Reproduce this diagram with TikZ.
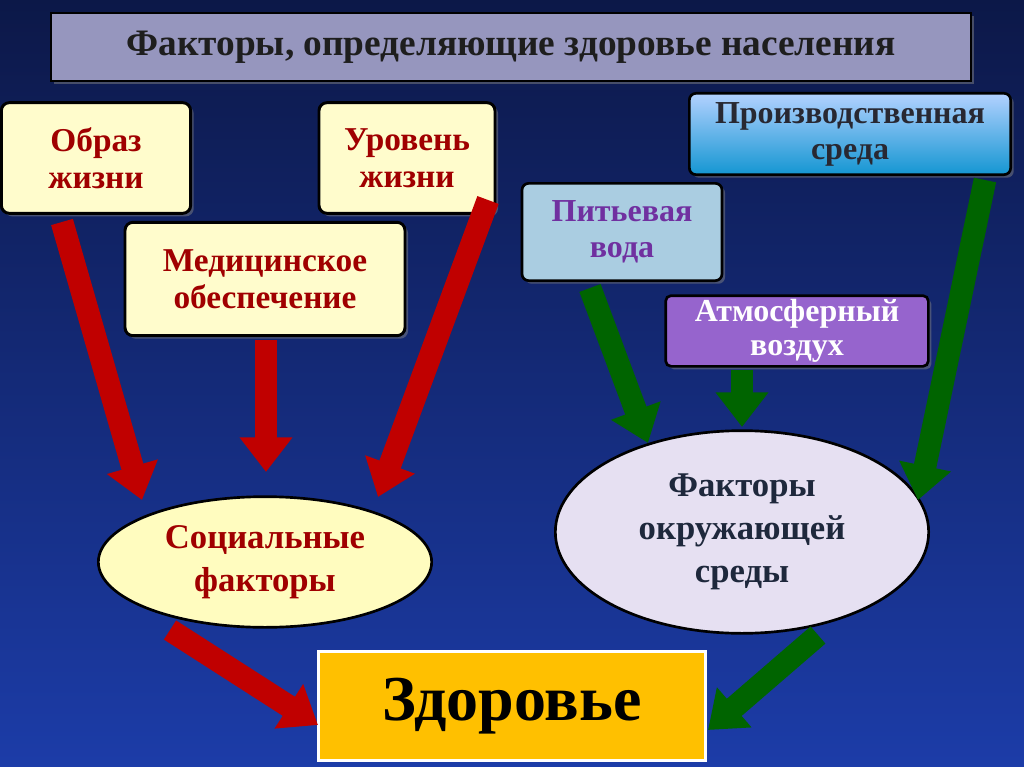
\documentclass[tikz,border=0pt]{standalone}
\usepackage{fontspec}
\setmainfont{Liberation Serif}
\usetikzlibrary{arrows.meta,shapes.geometric,shadows}
\definecolor{dred}{HTML}{A00000}
\definecolor{ared}{HTML}{C00000}
\definecolor{agreen}{HTML}{006400}
\definecolor{bgtop}{HTML}{0C1848}
\definecolor{bgbot}{HTML}{1C3CA8}
\begin{document}
\begin{tikzpicture}[x=0.75pt,y=-0.75pt,
 ybox/.style={draw=black,line width=2.2pt,rounded corners=6pt,fill=yellow!20,text=dred,font=\bfseries\fontsize{25}{28}\selectfont,align=center,drop shadow},
 bar/.style={line width=17pt,-{Triangle[length=26pt,width=38pt]}},
 rbar/.style={bar,draw=ared},
 gbar/.style={bar,draw=agreen}]
\shade[top color=bgtop, bottom color=bgbot] (0,0) rectangle (1024,767);
\useasboundingbox (0,0) rectangle (1024,767);
% title
\node[draw=black,line width=2pt,fill={rgb,255:red,150;green,150;blue,190},minimum width=690pt,minimum height=51pt,font=\bfseries\fontsize{28}{30}\selectfont,text={rgb,255:red,30;green,30;blue,30},drop shadow] (title) at (511,47) {Факторы, определяющие здоровье населения};
% yellow boxes
\node[ybox,minimum width=142pt,minimum height=83pt] (obraz) at (96,158) {Образ\\жизни};
\node[ybox,minimum width=132pt,minimum height=83pt] (urov) at (407,158) {Уровень\\жизни};
\node[ybox,minimum width=210pt,minimum height=85pt] (med) at (265,279) {Медицинское\\обеспечение};
% blue boxes
\node[draw=black,line width=2pt,rounded corners=5pt,top color=cyan!40!blue!30,bottom color={rgb,255:red,20;green,150;blue,210},minimum width=241pt,minimum height=61pt,align=center,font=\bfseries\fontsize{24}{27}\selectfont,text={rgb,255:red,40;green,40;blue,50},drop shadow] (proiz) at (850,134) {Производственная\\среда};
\node[draw=black,line width=2pt,rounded corners=5pt,fill={rgb,255:red,170;green,205;blue,225},minimum width=150pt,minimum height=73pt,align=center,font=\bfseries\fontsize{24}{27}\selectfont,text={rgb,255:red,112;green,48;blue,160},drop shadow] (voda) at (622,232) {Питьевая\\вода};
\node[draw=black,line width=2pt,rounded corners=4pt,fill={rgb,255:red,150;green,100;blue,205},minimum width=197pt,minimum height=53pt,inner sep=2pt,align=center,font=\bfseries\fontsize{24}{26}\selectfont,text=white,drop shadow] (vozd) at (797,331) {Атмосферный\\воздух};
% ellipses
\node[ellipse,draw=black,line width=2pt,fill=yellow!25,minimum width=250pt,minimum height=98pt,inner sep=0pt,align=center,font=\bfseries\fontsize{26}{32}\selectfont,text=dred] (soc) at (265,562) {Социальные\\факторы};
\node[ellipse,draw=black,line width=2pt,fill={rgb,255:red,230;green,224;blue,242},minimum width=280pt,minimum height=152pt,inner sep=0pt,align=center,font=\bfseries\fontsize{26}{32}\selectfont,text={rgb,255:red,30;green,40;blue,60}] (okr) at (742,532) {Факторы\\окружающей\\среды};
% health
\node[draw=white,line width=2pt,fill={rgb,255:red,255;green,192;blue,0},minimum width=290pt,minimum height=82pt,font=\bfseries\fontsize{48}{50}\selectfont] (zdor) at (512,706) {Здоровье};
% arrows
\coordinate (a1) at (62,222); \coordinate (b1) at (142,500);
\coordinate (a2) at (266,340); \coordinate (b2) at (266,472);
\coordinate (a3) at (488,200); \coordinate (b3) at (378,497);
\coordinate (a4) at (170,630); \coordinate (b4) at (318,725);
\coordinate (a5) at (590,288); \coordinate (b5) at (648,443);
\coordinate (a6) at (742,370); \coordinate (b6) at (742,427);
\coordinate (a7) at (985,180); \coordinate (b7) at (918,500);
\coordinate (a8) at (818,635); \coordinate (b8) at (708,730);
\draw[rbar] (a1) -- (b1);
\draw[rbar] (a2) -- (b2);
\draw[rbar] (a3) -- (b3);
\draw[rbar] (a4) -- (b4);
\draw[gbar] (a5) -- (b5);
\draw[gbar] (a6) -- (b6);
\draw[gbar] (a7) -- (b7);
\draw[gbar] (a8) -- (b8);
\end{tikzpicture}
\end{document}
